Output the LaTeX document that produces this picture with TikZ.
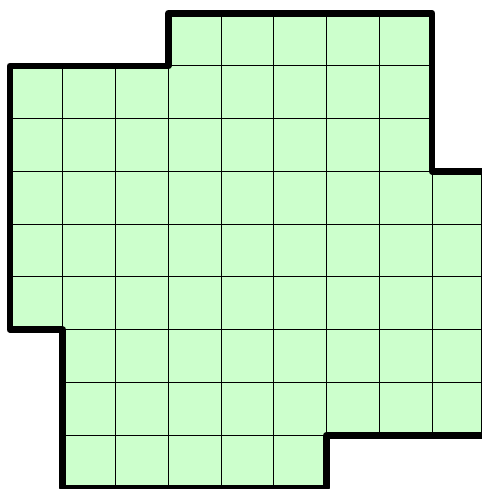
\documentclass[tikz,border=0pt]{standalone}
\usepackage{tikz}
\usepackage{xcolor}
\definecolor{regiongreen}{RGB}{204,255,204}

\begin{document}
\begin{tikzpicture}[
    region/.style={fill=regiongreen},
    cellgrid/.style={black, line width=0.55pt},
    border/.style={black, line width=3.6pt, line join=round}
]
    \useasboundingbox (-0.19,-0.02) rectangle (8.94,9.25);

    \def\outline{(3,9) -- (8,9) -- (8,6) -- (9,6) -- (9,1) -- (6,1) -- (6,0) -- (1,0) -- (1,3) -- (0,3) -- (0,8) -- (3,8) -- cycle}

    \fill[region] \outline;
    \begin{scope}
        \clip \outline;
        \draw[cellgrid] (0,0) grid (9,9);
    \end{scope}
    \draw[border] \outline;
\end{tikzpicture}
\end{document}
